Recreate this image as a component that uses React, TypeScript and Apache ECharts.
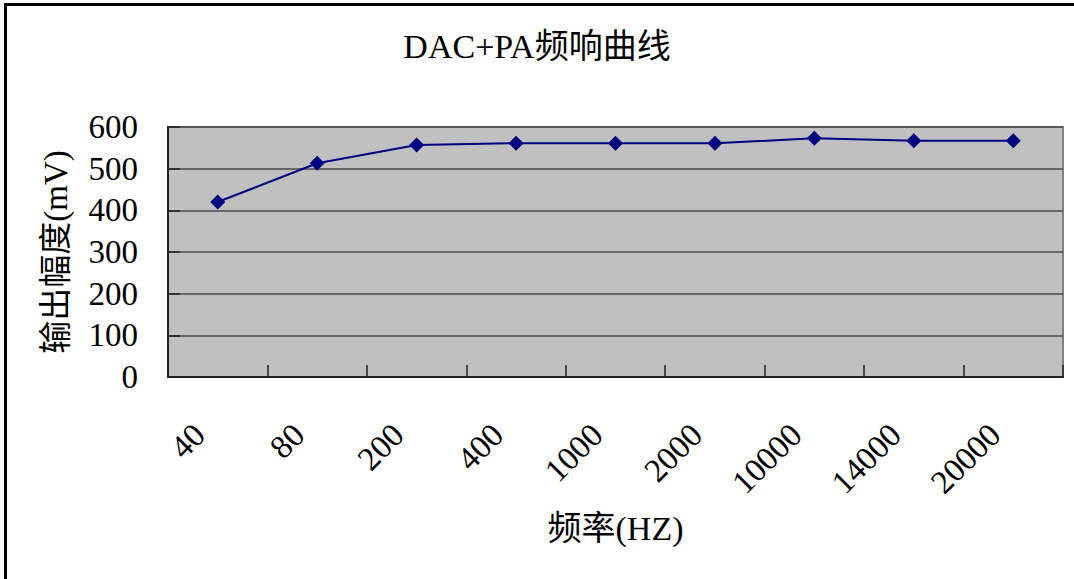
import React, { useEffect, useRef } from "react";
import * as echarts from "echarts";

const categories = ["40", "80", "200", "400", "1000", "2000", "10000", "14000", "20000"];
const outputMv = [420, 513, 557, 561, 561, 561, 573, 567, 567];
const yMin = 0;
const yMax = 600;
const yStep = 100;

const FONT = "'Liberation Serif', 'Noto Sans CJK SC', serif";

export default function App() {
  const ref = useRef<HTMLDivElement>(null);
  useEffect(() => {
    document.body.style.margin = "0";
    if (!ref.current) return;
    const chart = echarts.init(ref.current, null, { renderer: "svg" });
    chart.setOption({
      animation: false,
      backgroundColor: "#ffffff",
      title: {
        text: "DAC+PA频响曲线",
        left: "center",
        top: 24,
        textStyle: { fontFamily: FONT, fontSize: 34, fontWeight: "normal", color: "#000" },
      },
      graphic: [
        {
          type: "rect",
          shape: { x: 5.5, y: 4.5, width: 1200, height: 700 },
          style: { fill: "none", stroke: "#000", lineWidth: 3 },
          silent: true,
        },
      ],
      grid: {
        left: 168,
        right: 11,
        top: 127,
        bottom: 202,
        show: true,
        backgroundColor: "#c0c0c0",
        borderColor: "#808080",
        borderWidth: 2,
      },
      xAxis: {
        type: "category",
        data: categories,
        boundaryGap: true,
        name: "频率(HZ)",
        nameLocation: "middle",
        nameGap: 134,
        nameTextStyle: { fontFamily: FONT, fontSize: 34, color: "#000" },
        axisLine: { show: true, lineStyle: { color: "#222", width: 2 } },
        axisTick: { show: true, inside: true, length: 12, alignWithLabel: false, lineStyle: { color: "#222", width: 1.5 } },
        axisLabel: {
          rotate: 45,
          interval: 0,
          margin: 34,
          padding: [0, 26, 0, 0],
          fontFamily: FONT,
          fontSize: 33,
          color: "#000",
        },
        splitLine: { show: false },
      },
      yAxis: {
        type: "value",
        min: yMin,
        max: yMax,
        interval: yStep,
        name: "输出幅度(mV)",
        nameLocation: "middle",
        nameGap: 96,
        nameRotate: 90,
        nameTextStyle: { fontFamily: FONT, fontSize: 33, color: "#000" },
        axisLine: { show: true, lineStyle: { color: "#222", width: 2 } },
        axisTick: { show: true, inside: true, length: 12, lineStyle: { color: "#222", width: 1.5 } },
        axisLabel: { margin: 30, fontFamily: FONT, fontSize: 33, color: "#000" },
        splitLine: { show: true, lineStyle: { color: "#4a4a4a", width: 1.5 } },
      },
      series: [
        {
          type: "line",
          data: outputMv,
          symbol: "diamond",
          symbolSize: 15,
          lineStyle: { color: "#000080", width: 2 },
          itemStyle: { color: "#000080" },
        },
      ],
    });
    return () => chart.dispose();
  }, []);
  return <div ref={ref} style={{ width: 1074, height: 579 }} />;
}
